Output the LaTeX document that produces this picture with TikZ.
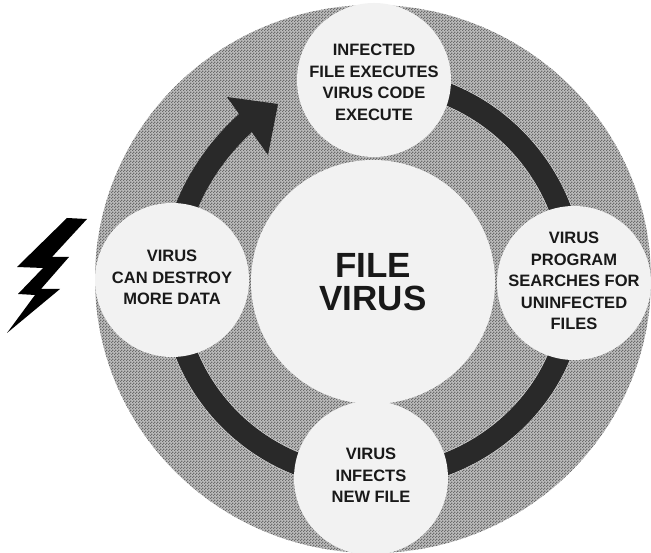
\documentclass[tikz,border=0pt]{standalone}
\usepackage{fontspec}
\setmainfont{Liberation Sans}
\usetikzlibrary{patterns,backgrounds}
\definecolor{ringgray}{gray}{0.74}
\definecolor{dotgray}{gray}{0.42}
\definecolor{diskfill}{gray}{0.95}
\definecolor{bandcol}{gray}{0.16}
\definecolor{halo}{gray}{0.9}
\pgfdeclarepatternformonly{halftone}{\pgfqpoint{0pt}{0pt}}{\pgfqpoint{3pt}{3pt}}{\pgfqpoint{3pt}{3pt}}{%
  \pgfpathrectangle{\pgfqpoint{0pt}{0pt}}{\pgfqpoint{1.5pt}{1.5pt}}%
  \pgfpathrectangle{\pgfqpoint{1.5pt}{1.5pt}}{\pgfqpoint{1.5pt}{1.5pt}}%
  \pgfusepath{fill}}
\tikzset{
  x=1pt,y=1pt,
  disk/.style={circle,fill=diskfill,draw=none,inner sep=0pt,minimum size=154pt},
  disktxt/.style={inner sep=0pt,align=center,text=black!90,
    font=\bfseries\fontsize{16.5}{21.5}\selectfont},
  hub/.style={circle,fill=diskfill,draw=none,inner sep=0pt,minimum size=244pt,align=center,
    font=\bfseries\fontsize{35}{33}\selectfont,text=black!90},
  band/.style={draw=bandcol,line width=22pt},
  glow/.style={draw=halo,line width=23pt,xshift=-2.5pt},
}
\begin{document}
\begin{tikzpicture}
\useasboundingbox (0,0) rectangle (651,553);
\begin{scope}[on background layer]
  \fill[ringgray] (373,274) ellipse[x radius=278,y radius=274];
  \fill[pattern=halftone,pattern color=dotgray] (373,274) ellipse[x radius=278,y radius=274];
\end{scope}
\node[hub] (hub) at (373,271) {FILE\\VIRUS};
\node[disk,label={[disktxt,yshift=-2.5pt]center:INFECTED\\FILE EXECUTES\\VIRUS CODE\\EXECUTE}] (top) at (374,473) {};
\node[disk,label={[disktxt,yshift=2pt]center:VIRUS\\PROGRAM\\SEARCHES FOR\\UNINFECTED\\FILES}] (right) at (574,270) {};
\node[disk,label={[disktxt,yshift=2.5pt]center:VIRUS\\INFECTS\\NEW FILE}] (bottom) at (371,75) {};
\node[disk,label={[disktxt,yshift=2.5pt]center:VIRUS\\CAN DESTROY\\MORE DATA}] (left) at (172,273) {};
\coordinate (headbase) at (250,434);
\begin{scope}[on background layer]
  \draw[glow] (top.center) to[out=0,in=90] (right.center);
  \draw[glow] (right.center) to[out=-90,in=0] (bottom.center);
  \draw[glow] (bottom.center) to[out=180,in=-90] (left.center);
  \draw[band] (top.center) to[out=0,in=90] (right.center);
  \draw[band] (right.center) to[out=-90,in=0] (bottom.center);
  \draw[band] (bottom.center) to[out=180,in=-90] (left.center);
  \draw[band] (left.center) to[out=90,in=221,looseness=0.89] (headbase);
\end{scope}
\fill[bandcol] (227,456) -- (278,449) -- (268,398) -- cycle;
\fill[black] (67,335) -- (87,334) -- (52,296) -- (69,296) -- (41,264) -- (60,264) -- (7,220)
  -- (35,258) -- (18,259) -- (43,285) -- (17,286) -- cycle;
\end{tikzpicture}
\end{document}
